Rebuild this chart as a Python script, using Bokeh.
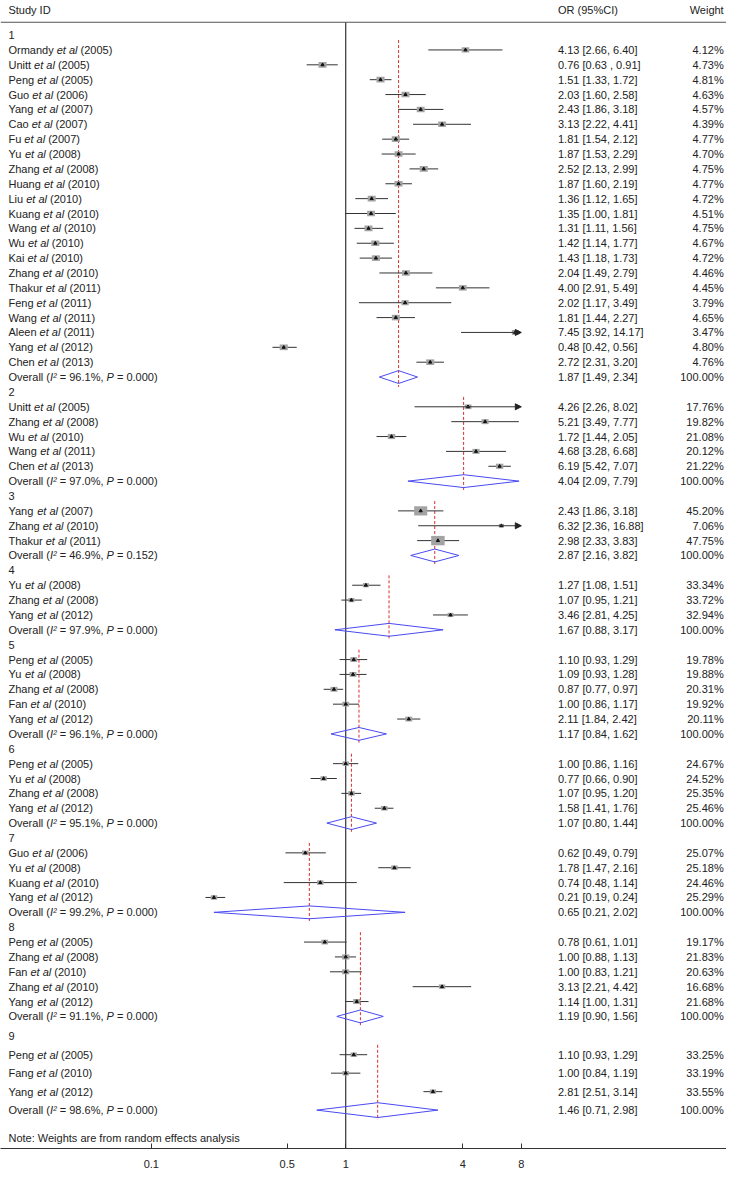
import numpy as np
from bokeh.plotting import figure
from bokeh.models import (Range1d, ColumnDataSource, Span, FixedTicker, Arrow,
                          NormalHead, CustomJSTickFormatter)
from bokeh.core.properties import value
from bokeh.embed import file_html
from bokeh.resources import INLINE

# ---------------- data ----------------
group_labels = ["1", "2", "3", "4", "5", "6", "7", "8", "9"]

study_group = [1] * 22 + [2] * 5 + [3] * 3 + [4] * 3 + [5] * 5 + [6] * 4 + [7] * 4 + [8] * 5 + [9] * 3
study_author = [
    "Ormandy", "Unitt", "Peng", "Guo", "Yang", "Cao", "Fu", "Yu", "Zhang", "Huang", "Liu",
    "Kuang", "Wang", "Wu", "Kai", "Zhang", "Thakur", "Feng", "Wang", "Aleen", "Yang", "Chen",
    "Unitt", "Zhang", "Wu", "Wang", "Chen",
    "Yang", "Zhang", "Thakur",
    "Yu", "Zhang", "Yang",
    "Peng", "Yu", "Zhang", "Fan", "Yang",
    "Peng", "Yu", "Zhang", "Yang",
    "Guo", "Yu", "Kuang", "Yang",
    "Peng", "Zhang", "Fan", "Zhang", "Yang",
    "Peng", "Fang", "Yang",
]
study_year = [
    2005, 2005, 2005, 2006, 2007, 2007, 2007, 2008, 2008, 2010, 2010,
    2010, 2010, 2010, 2010, 2010, 2011, 2011, 2011, 2011, 2012, 2013,
    2005, 2008, 2010, 2011, 2013,
    2007, 2010, 2011,
    2008, 2008, 2012,
    2005, 2008, 2008, 2010, 2012,
    2005, 2008, 2008, 2012,
    2006, 2008, 2010, 2012,
    2005, 2008, 2010, 2010, 2012,
    2005, 2010, 2012,
]
study_or = [
    4.13, 0.76, 1.51, 2.03, 2.43, 3.13, 1.81, 1.87, 2.52, 1.87, 1.36,
    1.35, 1.31, 1.42, 1.43, 2.04, 4.00, 2.02, 1.81, 7.45, 0.48, 2.72,
    4.26, 5.21, 1.72, 4.68, 6.19,
    2.43, 6.32, 2.98,
    1.27, 1.07, 3.46,
    1.10, 1.09, 0.87, 1.00, 2.11,
    1.00, 0.77, 1.07, 1.58,
    0.62, 1.78, 0.74, 0.21,
    0.78, 1.00, 1.00, 3.13, 1.14,
    1.10, 1.00, 2.81,
]
study_lo = [
    2.66, 0.63, 1.33, 1.60, 1.86, 2.22, 1.54, 1.53, 2.13, 1.60, 1.12,
    1.00, 1.11, 1.14, 1.18, 1.49, 2.91, 1.17, 1.44, 3.92, 0.42, 2.31,
    2.26, 3.49, 1.44, 3.28, 5.42,
    1.86, 2.36, 2.33,
    1.08, 0.95, 2.81,
    0.93, 0.93, 0.77, 0.86, 1.84,
    0.86, 0.66, 0.95, 1.41,
    0.49, 1.47, 0.48, 0.19,
    0.61, 0.88, 0.83, 2.21, 1.00,
    0.93, 0.84, 2.51,
]
study_hi = [
    6.40, 0.91, 1.72, 2.58, 3.18, 4.41, 2.12, 2.29, 2.99, 2.19, 1.65,
    1.81, 1.56, 1.77, 1.73, 2.79, 5.49, 3.49, 2.27, 14.17, 0.56, 3.20,
    8.02, 7.77, 2.05, 6.68, 7.07,
    3.18, 16.88, 3.83,
    1.51, 1.21, 4.25,
    1.29, 1.28, 0.97, 1.17, 2.42,
    1.16, 0.90, 1.20, 1.76,
    0.79, 2.16, 1.14, 0.24,
    1.01, 1.13, 1.21, 4.42, 1.31,
    1.29, 1.19, 3.14,
]
study_weight = [
    4.12, 4.73, 4.81, 4.63, 4.57, 4.39, 4.77, 4.70, 4.75, 4.77, 4.72,
    4.51, 4.75, 4.67, 4.72, 4.46, 4.45, 3.79, 4.65, 3.47, 4.80, 4.76,
    17.76, 19.82, 21.08, 20.12, 21.22,
    45.20, 7.06, 47.75,
    33.34, 33.72, 32.94,
    19.78, 19.88, 20.31, 19.92, 20.11,
    24.67, 24.52, 25.35, 25.46,
    25.07, 25.18, 24.46, 25.29,
    19.17, 21.83, 20.63, 16.68, 21.68,
    33.25, 33.19, 33.55,
]

overall_or = [1.87, 4.04, 2.87, 1.67, 1.17, 1.07, 0.65, 1.19, 1.46]
overall_lo = [1.49, 2.09, 2.16, 0.88, 0.84, 0.80, 0.21, 0.90, 0.71]
overall_hi = [2.34, 7.79, 3.82, 3.17, 1.62, 1.44, 2.02, 1.56, 2.98]
overall_i2 = [96.1, 97.0, 46.9, 97.9, 96.1, 95.1, 99.2, 91.1, 98.6]
overall_p = [0.000, 0.000, 0.152, 0.000, 0.000, 0.000, 0.000, 0.000, 0.000]

x_ticks = [0.1, 0.5, 1, 4, 8]
x_clip = 8.0

# ---------------- layout / style ----------------
FONT = "Liberation Sans"
FS = 11.0
TXT = "#222222"
LINE = "#333333"
row_step = [15.05] * 8 + [18.7]
group_gap = [0] * 8 + [5.0]
box_scale = [3.7, 1.6, 1.95, 1.05, 1.55, 1.3, 1.3, 1.55, 1.1]
diamond_half = [6.5] * 8 + [7.5]

W, H = 726, 1170
XSCALE = 0.992
X_NULL, DECADE = 348.0, 196.0


def rx(xr):
    return 10 ** ((xr - X_NULL) / DECADE)


ARIAL = {' ': 278, '!': 278, '%': 889, '(': 333, ')': 333, ',': 278, '.': 278, '=': 584,
         '[': 278, ']': 278, '\u00b2': 333, ':': 278,
         'A': 667, 'B': 667, 'C': 722, 'D': 722, 'E': 667, 'F': 611, 'G': 778, 'H': 722, 'I': 278,
         'J': 500, 'K': 667, 'L': 556, 'M': 833, 'N': 722, 'O': 778, 'P': 667, 'Q': 778, 'R': 722,
         'S': 667, 'T': 611, 'U': 722, 'V': 667, 'W': 944, 'X': 667, 'Y': 667, 'Z': 611,
         'a': 556, 'b': 556, 'c': 500, 'd': 556, 'e': 556, 'f': 278, 'g': 556, 'h': 556, 'i': 222,
         'j': 222, 'k': 500, 'l': 222, 'm': 833, 'n': 556, 'o': 556, 'p': 556, 'q': 556, 'r': 333,
         's': 500, 't': 278, 'u': 556, 'v': 500, 'w': 722, 'x': 500, 'y': 500, 'z': 500}


def tw(s):
    # width in reference px units
    return sum(ARIAL.get(c, 556) for c in s) / 1000.0 * FS / XSCALE


# compute row positions
header_y, study_y, overall_y = [], [], []
y = 35.0
for gi, lab in enumerate(group_labels):
    step = row_step[gi]
    y += group_gap[gi]
    header_y.append(y)
    n = study_group.count(gi + 1)
    for k in range(n):
        y += step
        study_y.append(y)
    y += step
    overall_y.append(y)
    y += step
note_y = overall_y[-1] + 28
AXIS_Y = 1162.0

p = figure(width=W, height=H, x_axis_type="log",
           x_range=Range1d(rx(0), rx(W / XSCALE)), y_range=Range1d(AXIS_Y, 0),
           output_backend="svg", toolbar_location=None, min_border=0,
           y_axis_location=None)
p.xgrid.visible = False
p.ygrid.visible = False
p.outline_line_color = None
p.background_fill_color = "white"

ax = p.xaxis[0]
ax.ticker = FixedTicker(ticks=x_ticks)
ax.formatter = CustomJSTickFormatter(code="return tick.toString();")
ax.major_tick_in = 5
ax.major_tick_out = 0
ax.minor_tick_line_color = None
ax.axis_line_color = LINE
ax.axis_line_width = 1.2
ax.major_tick_line_color = LINE
ax.major_label_text_font = FONT
ax.major_label_text_font_size = "11px"
ax.major_label_text_color = TXT
ax.major_label_standoff = 11

# header rule and null line
p.add_layout(Span(location=22, dimension="width", line_color="#555555", line_width=1.2))
p.segment(x0=[1], y0=[22], x1=[1], y1=[AXIS_Y], line_color=LINE, line_width=1.2)

# red dashed overall lines
first_y = []
last_y = []
for gi in range(len(group_labels)):
    idx = [i for i, g in enumerate(study_group) if g == gi + 1]
    first_y.append(study_y[idx[0]] - 10)
    last_y.append(overall_y[gi] + 10)
p.segment(x0=overall_or, y0=first_y, x1=overall_or, y1=last_y,
          line_color="#d9302c", line_dash="3 2", line_width=1)

# CI lines (clipped) and arrows
seg_x0, seg_x1, seg_y = [], [], []
arr = dict(x0=[], x1=[], y=[])
for i in range(len(study_or)):
    if study_hi[i] > x_clip:
        arr["x0"].append(study_lo[i]); arr["x1"].append(x_clip); arr["y"].append(study_y[i])
    else:
        seg_x0.append(study_lo[i]); seg_x1.append(study_hi[i]); seg_y.append(study_y[i])
p.segment(x0=seg_x0, y0=seg_y, x1=seg_x1, y1=seg_y, line_color=LINE, line_width=1)
p.add_layout(Arrow(end=NormalHead(size=6, fill_color="#222222", line_color="#222222", line_width=1),
                   source=ColumnDataSource(arr), x_start="x0", y_start="y", x_end="x1", y_end="y",
                   line_color=LINE, line_width=1))

# boxes
bw = [box_scale[g - 1] * np.sqrt(w) for g, w in zip(study_group, study_weight)]
bh = [b * 0.7 for b in bw]
box_src = ColumnDataSource(dict(x=study_or, y=study_y, w=bw, h=bh))
p.rect(x="x", y="y", width="w", height="h", width_units="screen", height_units="screen",
       source=box_src, fill_color="#a3a3a3", line_color=None)
p.scatter(x="x", y="y", source=box_src, marker="triangle", size=3.2, color="#111111")

# diamonds
dxs, dys = [], []
for gi in range(len(group_labels)):
    yy = overall_y[gi]
    h = diamond_half[gi]
    dxs.append([overall_lo[gi], overall_or[gi], overall_hi[gi], overall_or[gi], overall_lo[gi]])
    dys.append([yy, yy - h, yy, yy + h, yy])
p.patches(xs=dxs, ys=dys, fill_color=None, line_color="#4a4af2", line_width=1)

# ---------------- texts ----------------
normal = dict(x=[], y=[], t=[])
italic = dict(x=[], y=[], t=[])
right = dict(x=[], y=[], t=[])


def add(d, xr, yy, t):
    d["x"].append(rx(xr)); d["y"].append(yy); d["t"].append(t)


XL, XOR, XW = 8.0, 562.0, 729.0
add(normal, XL, 10, "Study ID")
add(normal, XOR, 10, "OR (95%CI)")
add(right, XW, 10, "Weight")

for gi, lab in enumerate(group_labels):
    add(normal, XL, header_y[gi], lab)

for i in range(len(study_or)):
    yy = study_y[i]
    a = study_author[i]
    x1 = XL + tw(a + " ")
    x2 = x1 + tw("et al ")
    add(normal, XL, yy, a)
    add(italic, x1, yy, "et al")
    add(normal, x2, yy, "(%d)" % study_year[i])
    sep = " , " if (study_group[i] == 1 and a == "Unitt") else ", "
    add(normal, XOR, yy, "%.2f [%.2f%s%.2f]" % (study_or[i], study_lo[i], sep, study_hi[i]))
    add(right, XW, yy, "%.2f%%" % study_weight[i])

for gi in range(len(group_labels)):
    yy = overall_y[gi]
    x = XL
    add(normal, x, yy, "Overall (")
    x += tw("Overall (")
    add(italic, x, yy, "I\u00b2")
    x += tw("I\u00b2 ")
    s = "= %.1f%%," % overall_i2[gi]
    add(normal, x, yy, s)
    x += tw(s + " ")
    add(italic, x, yy, "P")
    x += tw("P ")
    add(normal, x, yy, "= %.3f)" % overall_p[gi])
    add(normal, XOR, yy, "%.2f [%.2f, %.2f]" % (overall_or[gi], overall_lo[gi], overall_hi[gi]))
    add(right, XW, yy, "100.00%")

add(normal, XL, note_y, "Note: Weights are from random effects analysis")

common = dict(text_font=value(FONT), text_font_size="11px", text_baseline="middle", text_color=TXT)
p.text(x="x", y="y", text="t", source=ColumnDataSource(normal), text_align="left", **common)
p.text(x="x", y="y", text="t", source=ColumnDataSource(italic), text_align="left",
       text_font_style="italic", **common)
p.text(x="x", y="y", text="t", source=ColumnDataSource(right), text_align="right", **common)

open("out.html", "w").write(file_html(p, INLINE))
